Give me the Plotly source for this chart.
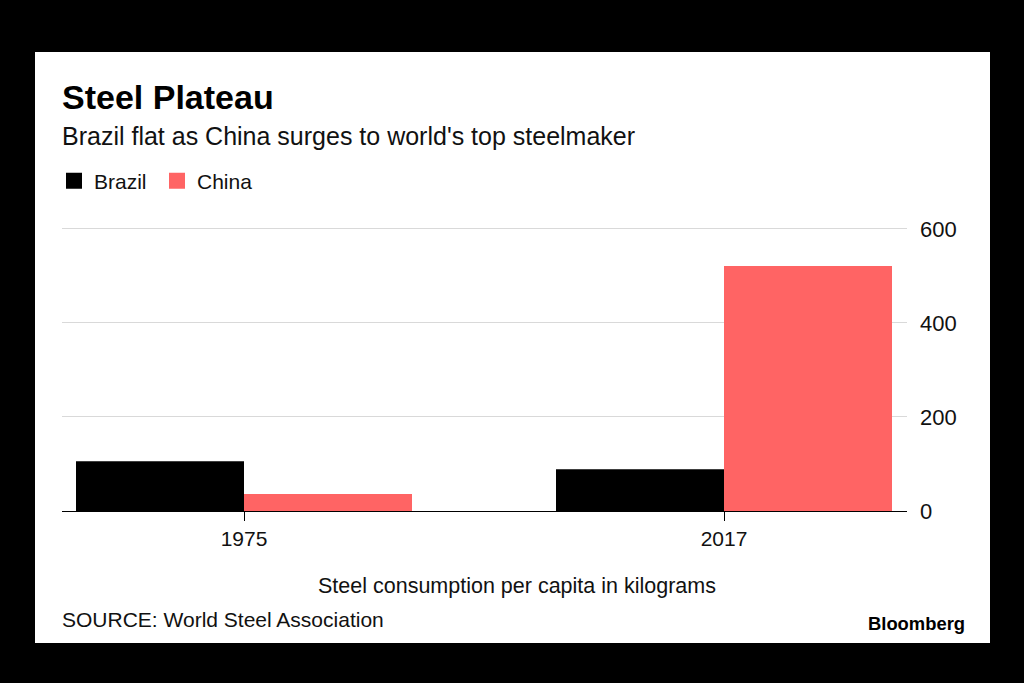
import plotly.graph_objects as go

# Data
years = ["1975", "2017"]
brazil = [106, 89]
china = [36, 521]
y_ticks = [0, 200, 400, 600]

title = "Steel Plateau"
subtitle = "Brazil flat as China surges to world's top steelmaker"
axis_note = "Steel consumption per capita in kilograms"
source = "SOURCE: World Steel Association"

FONT = "Liberation Sans, Arial, Helvetica, sans-serif"
RED = "#FF6464"

W, H = 1024, 683
ML, MR, MT, MB = 62, 117, 226, 172
PW = W - ML - MR
PH = H - MT - MB
YMAX = 606


def px_x(px):
    return (px - ML) / PW


def px_y(py):
    return (H - MB - py) / PH


xpos = list(range(len(years)))

fig = go.Figure()
fig.add_trace(go.Bar(x=xpos, y=brazil, marker=dict(color="#000000", line=dict(width=0)),
                     name="Brazil", showlegend=False))
fig.add_trace(go.Bar(x=xpos, y=china, marker=dict(color=RED, line=dict(width=0)),
                     name="China", showlegend=False))
# legend proxies
fig.add_trace(go.Scatter(x=[None], y=[None], mode="markers", name="Brazil",
                         marker=dict(symbol="square", size=18, color="#000000")))
fig.add_trace(go.Scatter(x=[None], y=[None], mode="markers", name="China",
                         marker=dict(symbol="square", size=18, color=RED)))

fig.update_layout(
    width=W, height=H,
    margin=dict(l=ML, r=MR, t=MT, b=MB),
    paper_bgcolor="#000000",
    plot_bgcolor="#ffffff",
    barmode="group",
    bargap=0.3,
    bargroupgap=0,
    font=dict(family=FONT, color="#111111", size=20),
    showlegend=True,
    legend=dict(orientation="h", x=px_x(54), xanchor="left", y=px_y(181), yanchor="middle",
                font=dict(size=21, color="#111111"), bgcolor="rgba(0,0,0,0)",
                entrywidth=58, entrywidthmode="pixels",
                itemclick=False, tracegroupgap=0),
    xaxis=dict(
        range=[(62 - 244) / 480, 1 + (907 - 724) / 480],
        tickvals=xpos, ticktext=years,
        showline=True, linecolor="#000000", linewidth=1,
        ticks="outside", tickcolor="#000000", ticklen=9, tickwidth=1,
        showgrid=False, zeroline=False,
        tickfont=dict(size=21, color="#111111"),
        fixedrange=True,
    ),
    yaxis=dict(
        side="right",
        range=[0, YMAX],
        tickvals=y_ticks,
        showgrid=True, gridcolor="#d9d9d9", gridwidth=1,
        zeroline=False, showline=False,
        ticks="", ticklabelstandoff=12,
        tickfont=dict(size=22, color="#111111"),
        fixedrange=True,
    ),
    shapes=[dict(type="rect", xref="paper", yref="paper", layer="below",
                 x0=px_x(35), x1=px_x(990), y0=px_y(643), y1=px_y(52),
                 fillcolor="#ffffff", line=dict(width=0))],
    annotations=[
        dict(text="<b>" + title + "</b>", xref="paper", yref="paper",
             x=px_x(60), y=px_y(97), xanchor="left", yanchor="middle",
             showarrow=False, font=dict(size=34, color="#000000")),
        dict(text=subtitle, xref="paper", yref="paper",
             x=px_x(60), y=px_y(136), xanchor="left", yanchor="middle",
             showarrow=False, font=dict(size=25, color="#111111")),
        dict(text=axis_note, xref="paper", yref="paper",
             x=px_x(517), y=px_y(586), xanchor="center", yanchor="middle",
             showarrow=False, font=dict(size=21.5, color="#111111")),
        dict(text=source, xref="paper", yref="paper",
             x=px_x(60), y=px_y(619), xanchor="left", yanchor="middle",
             showarrow=False, font=dict(size=21, color="#111111")),
        dict(text="<b>Bloomberg</b>", xref="paper", yref="paper",
             x=px_x(967), y=px_y(623), xanchor="right", yanchor="middle",
             showarrow=False, font=dict(size=18.4, color="#000000")),
    ],
)

fig.write_html("out.html", config={"displayModeBar": False},
               post_script="document.body.style.margin='0';document.body.style.background='#000';")
